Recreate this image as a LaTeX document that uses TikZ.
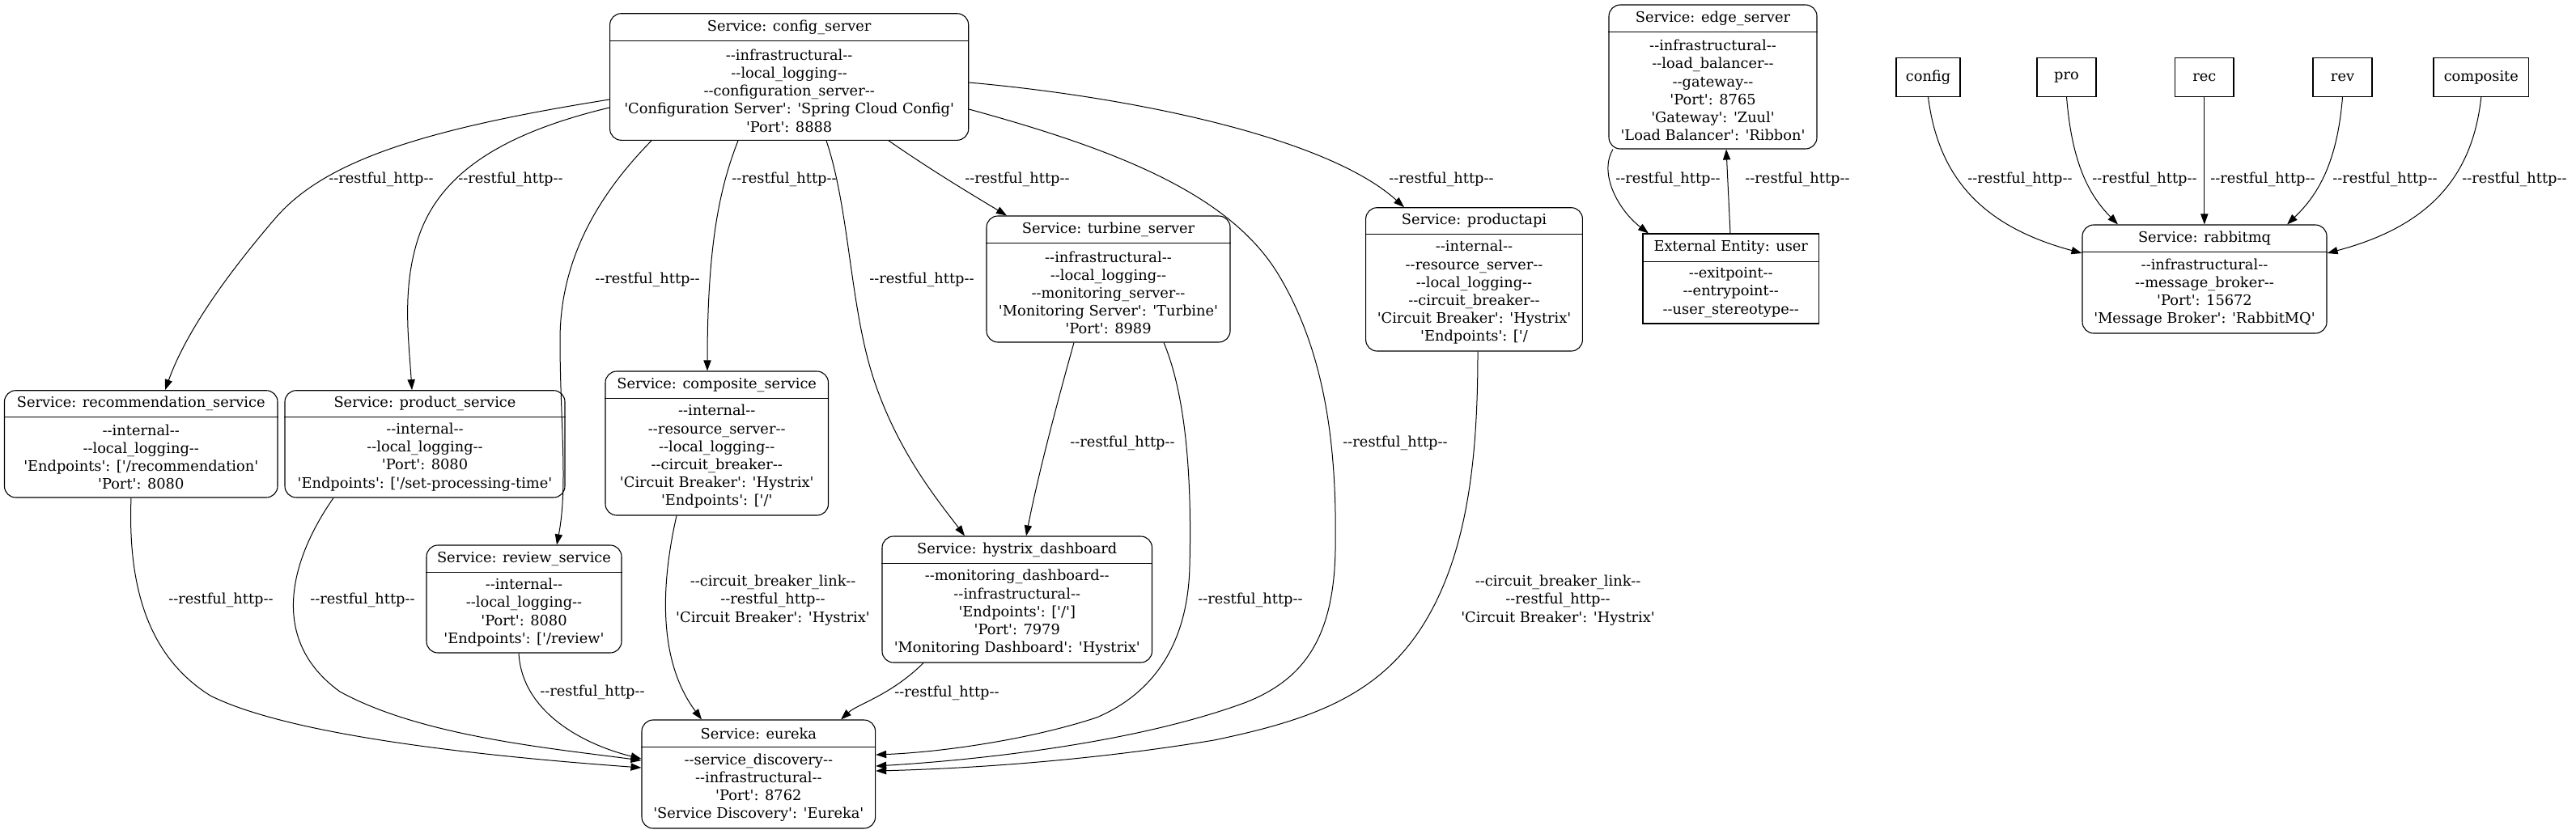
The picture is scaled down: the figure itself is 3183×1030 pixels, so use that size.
\documentclass[tikz,border=0pt]{standalone}
\usepackage{fontspec}
\setmainfont{DejaVu Serif}[Ligatures=TeXOff]
\usetikzlibrary{arrows.meta}
\newcommand\gvbox[9]{%
  \node[#9, minimum width={(#4-#2)*0.5pt}, minimum height={(#5-#3)*0.5pt}] (#1) at ({(#2+#4)/2},{(#3+#5)/2}) {};
  \draw[line width=0.5pt] (#1.west |- 0,#6) -- (#1.east |- 0,#6);
  \node (#1-t) at ({(#2+#4)/2},{(#3+#6)/2}) {#7};
  \node (#1-b) at ({(#2+#4)/2},{(#6+#5)/2}) {#8};
}
\newcommand\gvsmall[4]{%
  \node[ent, minimum width={(#3-#2)*0.5pt}, minimum height=23.8pt] (#1) at ({(#2+#3)/2},95.5) {#4};
}
\begin{document}
\begin{tikzpicture}[x=0.5pt,y=-0.5pt,
  every node/.style={font=\fontsize{8.9pt}{11.1pt}\selectfont, inner sep=0pt, align=center},
  svc/.style={draw, rounded corners=7pt, line width=0.55pt},
  ent/.style={draw, line width=0.55pt},
  conn/.style={line width=0.5pt, -{Triangle[length=6.5pt,width=4.6pt]}},
]
\useasboundingbox (0,0) rectangle (3183,1030);

% ---------- boxes ----------
\gvbox{cfg}{753.6}{16.7}{1196.7}{173.3}{50.7}{Service: config\_server}{--infrastructural--\\--local\_logging--\\--configuration\_server--\\'Configuration Server': 'Spring Cloud Config'\\'Port': 8888}{svc}
\gvbox{edge}{1988}{6}{2245}{184}{39}{Service: edge\_server}{--infrastructural--\\--load\_balancer--\\--gateway--\\'Port': 8765\\'Gateway': 'Zuul'\\'Load Balancer': 'Ribbon'}{svc}
\gvbox{user}{2030}{289}{2247.5}{400}{323}{External Entity: user}{--exitpoint--\\--entrypoint--\\--user\_stereotype--}{ent}
\gvbox{papi}{1687.6}{256.7}{1955.4}{434}{289}{Service: productapi}{--internal--\\--resource\_server--\\--local\_logging--\\--circuit\_breaker--\\'Circuit Breaker': 'Hystrix'\\'Endpoints': ['/}{svc}
\gvbox{turb}{1219}{267}{1520}{423}{300.7}{Service: turbine\_server}{--infrastructural--\\--local\_logging--\\--monitoring\_server--\\'Monitoring Server': 'Turbine'\\'Port': 8989}{svc}
\gvbox{recs}{5.5}{482.7}{343}{615}{515}{Service: recommendation\_service}{--internal--\\--local\_logging--\\'Endpoints': ['/recommendation'\\'Port': 8080}{svc}
\gvbox{prods}{352}{482.7}{698}{615}{515}{Service: product\_service}{--internal--\\--local\_logging--\\'Port': 8080\\'Endpoints': ['/set-processing-time'}{svc}
\gvbox{comps}{748}{459}{1023.5}{637}{492}{Service: composite\_service}{--internal--\\--resource\_server--\\--local\_logging--\\--circuit\_breaker--\\'Circuit Breaker': 'Hystrix'\\'Endpoints': ['/'}{svc}
\gvbox{revs}{527}{674}{768}{807}{707}{Service: review\_service}{--internal--\\--local\_logging--\\'Port': 8080\\'Endpoints': ['/review'}{svc}
\gvbox{hyst}{1090}{663}{1423.5}{819}{696}{Service: hystrix\_dashboard}{--monitoring\_dashboard--\\--infrastructural--\\'Endpoints': ['/']\\'Port': 7979\\'Monitoring Dashboard': 'Hystrix'}{svc}
\gvbox{eur}{793}{890}{1081.6}{1024}{923}{Service: eureka}{--service\_discovery--\\--infrastructural--\\'Port': 8762\\'Service Discovery': 'Eureka'}{svc}
\gvbox{rmq}{2573}{278}{2875}{412}{311.7}{Service: rabbitmq}{--infrastructural--\\--message\_broker--\\'Port': 15672\\'Message Broker': 'RabbitMQ'}{svc}

\gvsmall{sb-config}{2343}{2422}{config}
\gvsmall{sb-pro}{2517}{2590}{pro}
\gvsmall{sb-rec}{2687.6}{2760}{rec}
\gvsmall{sb-rev}{2858}{2931}{rev}
\gvsmall{sb-comp}{3007}{3124.6}{composite}

% ---------- connectors ----------
\draw[conn] (cfg.west |- 0,123) .. controls (520,160) and (400,200) .. (340,270) .. controls (280,340) and (230,410) .. (recs.north -| 204,0);
\draw[conn] (cfg.west |- 0,133) .. controls (620,165) and (540,215) .. (515,300) .. controls (497,360) and (505,420) .. (prods.north -| 509,0);
\draw[conn] (cfg.south -| 805,0) .. controls (740,240) and (692,320) .. (692,420) .. controls (692,520) and (702,600) .. (revs.north -| 688,0);
\draw[conn] (cfg.south -| 912,0) .. controls (890,230) and (874,300) .. (comps.north -| 874,0);
\draw[conn] (cfg.south -| 1021,0) .. controls (1050,260) and (1050,380) .. (1080,470) .. controls (1110,560) and (1160,620) .. (hyst.north -| 1192,0);
\draw[conn] (cfg.south -| 1098,0) .. controls (1150,210) and (1200,240) .. (turb.north -| 1244,0);
\draw[conn] (cfg.east |- 0,135) .. controls (1380,185) and (1520,240) .. (1580,340) .. controls (1640,440) and (1652,560) .. (1650,680) .. controls (1648,790) and (1610,840) .. (1540,868) .. controls (1400,920) and (1200,940) .. (eur.east |- 0,947);
\draw[conn] (cfg.east |- 0,102) .. controls (1400,120) and (1640,170) .. (papi.north -| 1735,0);
\draw[conn] (turb.south -| 1327,0) .. controls (1300,520) and (1280,600) .. (hyst.north -| 1268,0);
\draw[conn] (turb.south -| 1438,0) .. controls (1470,500) and (1472,620) .. (1470,700) .. controls (1468,790) and (1430,855) .. (1355,887) .. controls (1270,915) and (1160,930) .. (eur.east |- 0,933);
\draw[conn] (papi.south -| 1826,0) .. controls (1826,560) and (1815,680) .. (1760,770) .. controls (1705,860) and (1620,890) .. (1500,915) .. controls (1350,940) and (1200,950) .. (eur.east |- 0,953);
\draw[conn] (hyst.south -| 1141,0) .. controls (1100,860) and (1060,870) .. (eur.north -| 1039,0);
\draw[conn] (comps.south -| 836,0) .. controls (815,730) and (815,820) .. (eur.north -| 867,0);
\draw[conn] (recs.south -| 162,0) .. controls (158,720) and (180,810) .. (260,860) .. controls (360,910) and (600,935) .. (eur.west |- 0,949);
\draw[conn] (prods.south -| 412,0) .. controls (360,690) and (330,790) .. (420,855) .. controls (520,910) and (680,925) .. (eur.west |- 0,940);
\draw[conn] (revs.south -| 641,0) .. controls (645,880) and (720,920) .. (eur.west |- 0,938);
\draw[conn] (edge.south -| 1993,0) .. controls (1975,215) and (2000,260) .. (user.north -| 2037,0);
\draw[conn] (user.north -| 2138,0) -- (edge.south -| 2133,0);
\draw[conn] (sb-config.south) .. controls (2395,220) and (2450,280) .. (rmq.west |- 0,313);
\draw[conn] (sb-pro.south) .. controls (2560,200) and (2580,240) .. (rmq.north -| 2617,0);
\draw[conn] (sb-rec.south) -- (rmq.north -| 2723.8,0);
\draw[conn] (sb-rev.south) .. controls (2888,200) and (2865,240) .. (rmq.north -| 2826,0);
\draw[conn] (sb-comp.south) .. controls (3055,220) and (3000,280) .. (rmq.east |- 0,313);

% ---------- connector labels ----------
\node (l1) at (471,222) {--restful\_http--};
\node (l2) at (631,222) {--restful\_http--};
\node (l3) at (800,346) {--restful\_http--};
\node (l4) at (969,222) {--restful\_http--};
\node (l5) at (1139,346) {--restful\_http--};
\node (l6) at (1257,222) {--restful\_http--};
\node (l7) at (1724,548) {--restful\_http--};
\node (l8) at (1781,222) {--restful\_http--};
\node (l9) at (1387,548) {--restful\_http--};
\node (l10) at (1545,742) {--restful\_http--};
\node (l11) at (1925,742) {--circuit\_breaker\_link--\\--restful\_http--\\'Circuit Breaker': 'Hystrix'};
\node (l12) at (1170,857) {--restful\_http--};
\node (l13) at (955,742) {--circuit\_breaker\_link--\\--restful\_http--\\'Circuit Breaker': 'Hystrix'};
\node (l14) at (273,742) {--restful\_http--};
\node (l15) at (448,742) {--restful\_http--};
\node (l16) at (732,856) {--restful\_http--};
\node (l17) at (2061,222) {--restful\_http--};
\node (l18) at (2221,222) {--restful\_http--};
\node (l19) at (2496,222) {--restful\_http--};
\node (l20) at (2650,222) {--restful\_http--};
\node (l21) at (2796,222) {--restful\_http--};
\node (l22) at (2947,222) {--restful\_http--};
\node (l23) at (3107,222) {--restful\_http--};
\end{tikzpicture}
\end{document}
